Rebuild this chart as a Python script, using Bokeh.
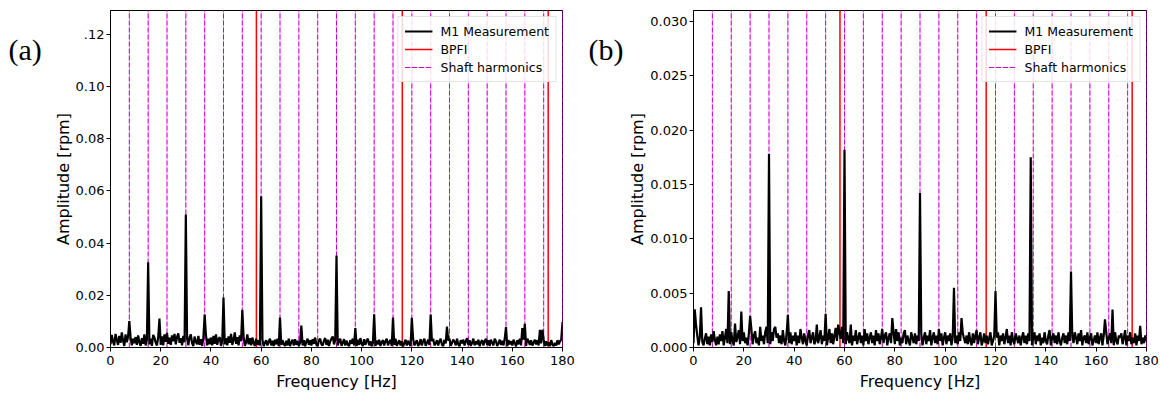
from bokeh.plotting import figure
from bokeh.layouts import row
from bokeh.models import Range1d, FixedTicker, Legend, LegendItem
from bokeh.core.properties import value
from bokeh.embed import file_html
from bokeh.resources import INLINE

# ---------------- data ----------------
freq_step = 0.5
x_ticks = [0, 20, 40, 60, 80, 100, 120, 140, 160, 180]
bpfi_a = [58.1, 116.2, 174.3]
bpfi_b = [58.2, 116.3, 174.3]
shaft = [7.5 * k for k in range(1, 25)]

y_ticks_a = [0.0, 0.02, 0.04, 0.06, 0.08, 0.10, 0.12]
y_ticks_b = [0.0, 0.005, 0.010, 0.015, 0.020, 0.025, 0.030]

# noise floor, units of 1e-4 rpm, 0.5 Hz steps (0 ... 180 Hz)
noise_a = [
    12, 48, 22, 8, 52, 30, 10, 44, 18, 58, 26, 6, 50, 20, 42, 10, 38, 8, 34, 16,
    40, 10, 46, 20, 6, 36, 14, 50, 8, 30, 44, 12, 34, 6, 48, 38, 18, 8, 40, 24,
    10, 42, 8, 50, 22, 56, 14, 38, 10, 46, 24, 52, 12, 40, 54, 18, 36, 8, 44, 20,
    14, 36, 8, 40, 50, 16, 6, 42, 22, 12, 44, 10, 32, 6, 38, 14, 48, 8, 34, 12,
    38, 8, 44, 14, 50, 10, 32, 40, 6, 24, 46, 12, 36, 8, 42, 18, 52, 10, 30, 58,
    14, 40, 8, 46, 24, 10, 40, 6, 20, 50, 12, 36, 8, 38, 16, 6, 34, 10, 28, 8,
    12, 30, 5, 18, 28, 8, 22, 34, 8, 26, 6, 30, 12, 34, 5, 20, 10, 28, 12, 6,
    26, 8, 34, 5, 20, 30, 8, 32, 10, 26, 6, 18, 34, 8, 28, 5, 22, 34, 10, 28,
    8, 32, 14, 38, 10, 6, 28, 34, 12, 8, 26, 36, 10, 30, 6, 24, 34, 42, 12, 28,
    30, 8, 24, 34, 6, 18, 32, 8, 26, 12, 5, 28, 14, 34, 8, 24, 6, 30, 10, 36,
    14, 6, 32, 10, 26, 34, 8, 24, 5, 18, 34, 6, 26, 12, 30, 6, 20, 28, 8, 24,
    34, 8, 20, 30, 6, 24, 10, 34, 6, 18, 28, 8, 24, 5, 16, 30, 8, 26, 14, 6,
    24, 34, 8, 18, 28, 6, 14, 32, 8, 24, 34, 6, 18, 30, 10, 5, 24, 34, 8, 16,
    28, 8, 24, 34, 10, 6, 30, 16, 8, 26, 34, 6, 18, 30, 22, 8, 34, 12, 5, 28,
    16, 30, 8, 24, 36, 10, 28, 6, 18, 34, 8, 24, 12, 30, 5, 20, 28, 8, 24, 34,
    10, 28, 6, 30, 18, 8, 34, 24, 6, 16, 30, 10, 26, 8, 34, 16, 5, 28, 12, 24,
    8, 30, 16, 5, 28, 12, 34, 8, 24, 30, 14, 6, 34, 24, 10, 28, 8, 18, 30, 12,
    28, 8, 34, 16, 10, 30, 6, 24, 8, 20, 5, 28, 12, 5, 18, 8, 28, 12, 24, 30,
    34,
]
noise_b = [
    4, 14, 3, 11, 2, 9, 15, 5, 2, 8, 13, 3, 10, 2, 12, 5, 15, 7, 2, 10,
    3, 12, 6, 15, 2, 9, 17, 4, 12, 3, 14, 6, 2, 13, 5, 10, 16, 3, 11, 6,
    14, 4, 9, 2, 13, 6, 17, 3, 11, 15, 4, 9, 2, 16, 6, 11, 3, 14, 8, 4,
    11, 3, 14, 6, 17, 2, 9, 13, 4, 11, 3, 16, 6, 2, 13, 8, 4, 14, 3, 11,
    6, 14, 2, 11, 4, 17, 9, 3, 13, 6, 2, 11, 16, 4, 9, 14, 3, 6, 13, 4,
    9, 16, 3, 11, 6, 14, 2, 9, 17, 4, 13, 3, 11, 18, 6, 2, 14, 8, 19, 4,
    11, 3, 14, 8, 4, 13, 2, 11, 6, 16, 3, 9, 14, 4, 11, 2, 17, 6, 13, 3,
    9, 14, 4, 11, 2, 16, 6, 13, 3, 9, 17, 4, 11, 14, 2, 9, 13, 4, 6, 14,
    3, 11, 6, 14, 2, 9, 4, 13, 16, 3, 11, 6, 2, 14, 9, 4, 13, 3, 11, 6,
    4, 13, 2, 9, 14, 3, 11, 6, 16, 2, 9, 14, 4, 11, 3, 17, 6, 13, 2, 9,
    14, 3, 11, 6, 13, 2, 9, 16, 4, 11, 3, 14, 6, 2, 13, 8, 4, 11, 3, 14,
    6, 2, 13, 4, 11, 16, 3, 9, 14, 2, 6, 13, 4, 11, 3, 9, 14, 2, 6, 11,
    3, 9, 14, 2, 11, 6, 13, 3, 9, 17, 4, 11, 2, 14, 6, 3, 13, 9, 4, 11,
    2, 9, 14, 4, 11, 3, 13, 6, 16, 2, 9, 14, 3, 11, 6, 13, 2, 9, 4, 14,
    6, 3, 11, 16, 2, 9, 13, 4, 11, 3, 14, 6, 2, 9, 13, 4, 11, 3, 14, 6,
    2, 11, 4, 14, 9, 3, 13, 6, 16, 2, 9, 11, 4, 14, 3, 9, 13, 2, 6, 11,
    4, 14, 3, 9, 13, 2, 11, 6, 14, 3, 9, 13, 4, 11, 2, 14, 6, 3, 11, 9,
    13, 3, 9, 16, 2, 11, 6, 14, 3, 9, 4, 13, 2, 11, 6, 14, 3, 9, 4, 11,
    6,
]

peak_freq_a = [7.5, 15, 19.5, 30, 37.5, 45, 52.5, 60, 67.5, 76, 90, 97.5, 105,
               112.5, 120, 127.5, 134, 157.5, 164, 165, 171, 172, 180]
peak_amp_a = [0.0101, 0.0326, 0.0111, 0.0509, 0.0126, 0.0191, 0.0144, 0.0579,
              0.0115, 0.0084, 0.0352, 0.0074, 0.0127, 0.0115, 0.0114, 0.0126,
              0.0080, 0.0078, 0.0074, 0.0091, 0.0068, 0.0068, 0.0097]

peak_freq_b = [0.5, 1, 3, 14, 16.5, 19, 22.5, 26.5, 29, 30, 32.5, 37.5, 49, 52.5,
               57.5, 60, 62.5, 79, 80.5, 90, 103.5, 106.5, 120, 134, 150, 163.5,
               166.5, 177.5]
peak_amp_b = [0.0035, 0.0021, 0.0037, 0.0052, 0.0022, 0.0033, 0.0029, 0.0019,
              0.0019, 0.0178, 0.0019, 0.0030, 0.0021, 0.0031, 0.0021, 0.0182,
              0.0021, 0.0027, 0.0017, 0.0142, 0.0055, 0.0027, 0.0052, 0.0175,
              0.0070, 0.0026, 0.0035, 0.0020]


def spectrum(noise, pf, pa):
    f = [i * freq_step for i in range(len(noise))]
    a = [v * 1e-4 for v in noise]
    for fr, am in zip(pf, pa):
        a[int(round(fr / freq_step))] = am
    return f, a


FONT = "DejaVu Sans"
TAG_W = 45


def tag_fig(tag):
    t = figure(width=TAG_W, height=397, output_backend="svg", toolbar_location=None,
               x_range=Range1d(0, TAG_W), y_range=Range1d(0, 397),
               min_border=0, min_border_left=0, min_border_right=0,
               min_border_top=0, min_border_bottom=0)
    t.axis.visible = False
    t.grid.visible = False
    t.outline_line_color = None
    t.background_fill_color = "white"
    t.border_fill_color = "white"
    t.text(x=[8], y=[397 - 46], text=[tag], text_font=value("Liberation Serif"),
           text_font_size="30px", text_color="black", text_baseline="alphabetic",
           text_align="left")
    return t


def panel(noise, pf, pa, bpfi, yticks, ytop, ylabels, border_left, border_right):
    f, a = spectrum(noise, pf, pa)
    p = figure(width=580 - TAG_W, height=397, output_backend="svg", toolbar_location=None,
               x_range=Range1d(0, 180), y_range=Range1d(0, ytop),
               min_border_left=border_left - TAG_W, min_border_right=border_right,
               min_border_top=10, min_border_bottom=50)
    p.background_fill_color = "white"
    p.border_fill_color = "white"
    p.grid.visible = False
    p.outline_line_color = "black"
    p.outline_line_width = 1

    r_meas = p.line(f, a, line_color="black", line_width=2.2)
    r_bpfi = p.multi_line([[b, b] for b in bpfi], [[0, 1] for _ in bpfi],
                          line_color="red", line_width=1.5)
    r_shaft_bg = p.multi_line([[s, s] for s in shaft], [[0, 1] for _ in shaft],
                              line_color="#ff00ff", line_alpha=0.3, line_width=1)
    r_shaft = p.multi_line([[s, s] for s in shaft], [[0, 1] for _ in shaft],
                           line_color="#cc00cc", line_width=1, line_dash="5 2")
    p.renderers = [r_shaft_bg, r_shaft, r_bpfi, r_meas]

    for ax in (p.xaxis[0], p.yaxis[0]):
        ax.major_tick_in = 0
        ax.major_tick_out = 4
        ax.minor_tick_line_color = None
        ax.axis_line_color = "black"
        ax.major_tick_line_color = "black"
        ax.major_label_text_font = FONT
        ax.major_label_text_font_size = "13px"
        ax.major_label_text_color = "black"
        ax.axis_label_text_font = FONT
        ax.axis_label_text_font_size = "16px"
        ax.axis_label_text_font_style = "normal"
        ax.axis_label_text_color = "black"
    p.yaxis.major_label_standoff = 2
    p.yaxis.axis_label_standoff = 0
    p.xaxis.axis_label_standoff = 4
    p.xaxis.major_label_standoff = 4

    p.xaxis.ticker = FixedTicker(ticks=x_ticks)
    p.xaxis.axis_label = "Frequency [Hz]"
    p.yaxis.ticker = FixedTicker(ticks=yticks)
    p.yaxis.major_label_overrides = ylabels
    p.yaxis.axis_label = "Amplitude [rpm]"

    legend = Legend(items=[
        LegendItem(label="M1 Measurement", renderers=[r_meas]),
        LegendItem(label="BPFI", renderers=[r_bpfi]),
        LegendItem(label="Shaft harmonics", renderers=[r_shaft_bg, r_shaft]),
    ], location="top_right")
    legend.label_text_font = FONT
    legend.label_text_font_size = "12.5px"
    legend.label_text_color = "black"
    legend.border_line_color = "#cccccc"
    legend.background_fill_alpha = 0.85
    legend.glyph_width = 28
    legend.glyph_height = 16
    legend.label_standoff = 8
    legend.label_height = 16
    legend.spacing = 2
    legend.padding = 6
    legend.margin = 6
    p.add_layout(legend)
    return p


labels_a = {t: ("%.2f" % t) for t in y_ticks_a}
labels_a[0.12] = ".12"
labels_b = {t: ("%.3f" % t) for t in y_ticks_b}

p1 = panel(noise_a, peak_freq_a, peak_amp_a, bpfi_a, y_ticks_a, 0.129,
           labels_a, 110, 18)
p2 = panel(noise_b, peak_freq_b, peak_amp_b, bpfi_b, y_ticks_b, 0.031,
           labels_b, 113, 14)

layout = row(tag_fig("(a)"), p1, tag_fig("(b)"), p2)
open("out.html", "w").write(file_html(layout, INLINE))
